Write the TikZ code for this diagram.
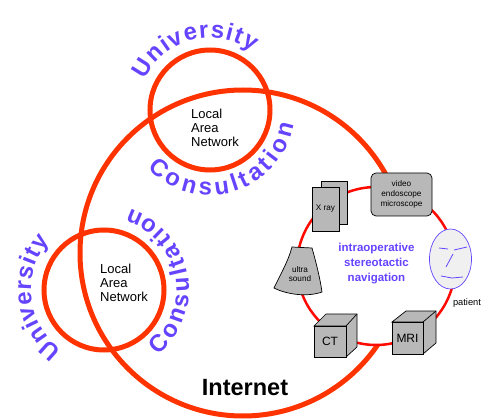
\documentclass[tikz,border=0pt]{standalone}
\usepackage{fontspec}
\setmainfont{Liberation Sans}
\usetikzlibrary{decorations.text,shapes.geometric}
\definecolor{netred}{HTML}{FF3300}
\definecolor{ringred}{HTML}{FF0A00}
\definecolor{lbl}{HTML}{6644FF}
\definecolor{boxg}{HTML}{B8B8B8}
\tikzset{x=1pt,y=-1pt,
 devbox/.style={draw=black,fill=boxg,line width=.7pt},
 lan/.style={font=\fontsize{13}{14}\selectfont,align=left,anchor=west,inner sep=0pt},
 dev/.style={font=\fontsize{8.2}{9.7}\selectfont,align=center},
 cube/.style={font=\fontsize{12}{14}\selectfont},
 curve/.style={decorate,decoration={text along path,text align={fit to path},text color=lbl,
   text={|\bfseries\fontsize{24}{28}\selectfont|#1}}}}
\begin{document}
\begin{tikzpicture}
\useasboundingbox (0,0) rectangle (483,420);
% internet
\node[circle,draw=netred,line width=5pt,minimum size=326pt,inner sep=0pt] (inet) at (243,253) {};
% lan circles
\node[circle,draw=netred,line width=5pt,minimum size=120pt,inner sep=0pt] (lan1) at (210,110) {};
\node[circle,draw=netred,line width=5pt,minimum size=120pt,inner sep=0pt] (lan2) at (104,290) {};
% ring
\node[circle,draw=ringred,fill=white,line width=2.5pt,minimum size=158pt,inner sep=0pt] (ring) at (376,266) {};
% labels
\node[lan] (l1) at (191,128) {Local\\Area\\Network};
\node[lan] (l2) at (100,283) {Local\\Area\\Network};
\node[font=\bfseries\fontsize{23.5}{26}\selectfont] (inettxt) at (245,388) {Internet};
\node[font=\bfseries\fontsize{11.5}{15}\selectfont,text=lbl,align=center] (nav) at (376.5,264) {intraoperative\\stereotactic\\navigation};
\path[curve={University},shift={(210,110)}] (205:72) arc[start angle=205,end angle=306,radius=72];
\path[curve={Consultation},shift={(210,110)}] (137:85) arc[start angle=137,end angle=10,radius=85];
\path[curve={University},shift={(104,290)}] (125:73) arc[start angle=125,end angle=222,radius=73];
\path[curve={Consultation},shift={(104,290)}] (50:85) arc[start angle=50,end angle=-72,radius=85];
% xray
\draw[devbox] (321,181) rectangle (347,224);
\node[devbox,minimum width=27pt,minimum height=44pt,inner sep=0pt,dev] (xray) at (325.5,209) {X ray};
% video
\node[devbox,rounded corners=5pt,minimum width=61pt,minimum height=43pt,inner sep=0pt,dev] (video) at (401.5,194.5) {video\\endoscope\\microscope};
% face
\node[ellipse,draw=lbl,fill=black!6,minimum width=42pt,minimum height=60pt,inner sep=0pt,line width=.7pt] (face) at (450.5,259) {};
\draw[lbl,line width=.8pt] (439,248) -- (448,249) (454,250) -- (467,247) (453,254) -- (446,267) (441,276) -- (452,278) -- (463,277);
\node[font=\fontsize{9.3}{11}\selectfont] (pat) at (467,303) {patient};
% ultrasound
\draw[devbox] (292,247) -- (312,248) .. controls (316,262) and (320,278) .. (322,292) .. controls (308,297) and (288,295) .. (274,288) .. controls (280,275) and (288,262) .. (292,247) -- cycle;
\node[dev,align=center] (us) at (300,274) {ultra\\sound};
% CT
\draw[devbox] (314,326) -- (326,314) -- (357,314) -- (357,347) -- (346,357) -- (346,326) -- cycle;
\draw[devbox] (346,326) -- (357,314);
\node[devbox,cube,minimum width=32pt,minimum height=31pt,inner sep=0pt] (ct) at (330,341.5) {CT};
% MRI
\draw[devbox] (392,322) -- (406,311) -- (436,311) -- (436,343) -- (423,354) -- (423,322) -- cycle;
\draw[devbox] (423,322) -- (436,311);
\node[devbox,cube,minimum width=31pt,minimum height=32pt,inner sep=0pt] (mri) at (407.5,338) {MRI};
\end{tikzpicture}
\end{document}
